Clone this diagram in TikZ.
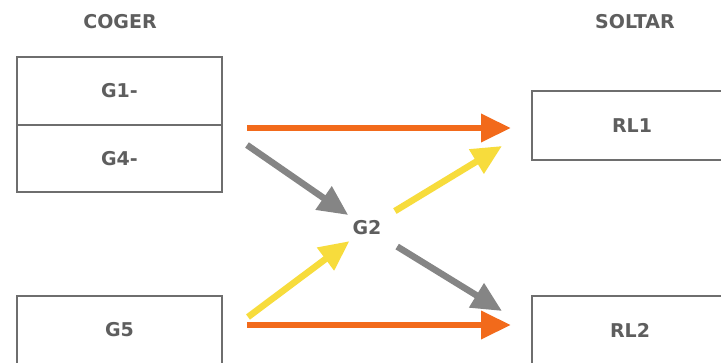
\documentclass[tikz,border=0pt]{standalone}
\usepackage{fontspec}
\setmainfont{DejaVu Sans}
\usetikzlibrary{arrows.meta}
\definecolor{txt}{HTML}{5E5E5E}
\definecolor{frame}{HTML}{6E6E6E}
\definecolor{orng}{HTML}{F26A1B}
\definecolor{yllw}{HTML}{F7DC3C}
\definecolor{gry}{HTML}{858585}
\tikzset{
  lbl/.style={font=\bfseries\fontsize{19}{19}\selectfont, text=txt},
  box/.style={draw=frame, line width=2.4pt, fill=white, minimum width=205pt, lbl},
  arw/.style={line width=6.5pt, -{Triangle[length=30pt,width=27pt]}},
}
\begin{document}
\begin{tikzpicture}[x=1pt,y=-1pt]
\useasboundingbox (0,0) rectangle (721,362);
\clip (0,0) rectangle (721,362);
\fill[white] (0,0) rectangle (721,362);
\node[lbl] (coger) at (120,22) {COGER};
\node[lbl] (soltar) at (635,22) {SOLTAR};
\node[box, minimum height=68pt] (g1) at (119.5,91) {G1-};
\node[box, minimum height=67pt] (g4) at (119.5,158.5) {G4-};
\node[box, minimum height=80pt] (g5) at (119.5,336) {};
\node[lbl] (g5t) at (119.5,330) {G5};
\node[box, minimum width=200pt, minimum height=69pt] (rl1) at (632,125.5) {RL1};
\node[box, minimum width=200pt, minimum height=80pt] (rl2) at (632,336) {};
\node[lbl] (rl2t) at (630,330) {RL2};
\node[lbl] (g2) at (367,228) {G2};
\coordinate (o1s) at (247,128);
\coordinate (o1e) at (511,128);
\coordinate (o2s) at (247,325);
\coordinate (o2e) at (511,325);
\coordinate (k1s) at (247,145);
\coordinate (y1e) at (502,146);
\coordinate (k2e) at (502,311);
\coordinate (y2s) at (248,317);
\draw[arw, orng] (o1s) -- (o1e);
\draw[arw, orng] (o2s) -- (o2e);
\draw[arw, gry, shorten >=4pt] (k1s) -- (g2);
\draw[arw, yllw, shorten >=4pt] (y2s) -- (g2);
\draw[arw, yllw, shorten <=12pt] (g2) -- (y1e);
\draw[arw, gry, shorten <=15pt] (g2) -- (k2e);
\end{tikzpicture}
\end{document}
